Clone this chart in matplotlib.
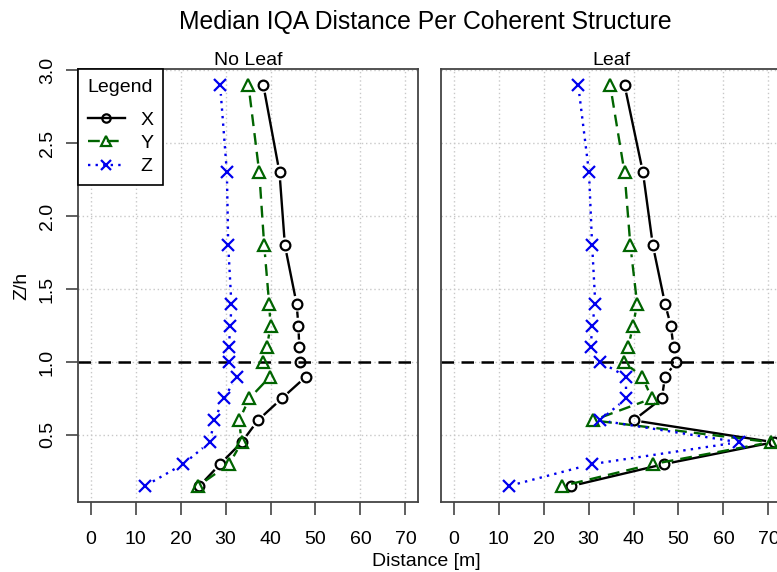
import numpy as np
import matplotlib
matplotlib.use('Agg')
import matplotlib.pyplot as plt
from matplotlib.lines import Line2D

plt.rcParams['font.family'] = ['Liberation Sans', 'DejaVu Sans']

# heights (Z/h)
zh = [0.15, 0.3, 0.45, 0.6, 0.75, 0.9, 1.0, 1.1, 1.25, 1.4, 1.8, 2.3, 2.9]

# median IQA distance [m], no leaf
noleaf_x = [24.2, 28.8, 33.6, 37.2, 42.5, 47.9, 46.6, 46.4, 46.2, 45.8, 43.2, 42.0, 38.4]
noleaf_y = [23.9, 30.8, 33.6, 33.0, 35.3, 39.9, 38.3, 39.2, 40.0, 39.7, 38.6, 37.5, 35.1]
noleaf_z = [12.1, 20.6, 26.5, 27.5, 29.6, 32.6, 30.7, 30.7, 31.1, 31.3, 30.6, 30.3, 28.8]

# leaf
leaf_x = [26.2, 46.8, 71.2, 40.0, 46.3, 47.0, 49.5, 48.9, 48.3, 47.0, 44.3, 42.1, 38.0]
leaf_y = [24.2, 44.3, 70.5, 31.0, 44.1, 41.9, 37.8, 38.8, 39.9, 40.8, 39.3, 38.0, 34.8]
leaf_z = [12.3, 30.8, 63.4, 32.5, 38.4, 38.4, 32.6, 30.5, 30.8, 31.5, 30.8, 30.1, 27.7]

xticks = [0, 10, 20, 30, 40, 50, 60, 70]
yticks = [0.5, 1.0, 1.5, 2.0, 2.5, 3.0]

styles = [
    dict(color='black', ls='-', marker='o', ms=7),
    dict(color='#006400', ls=(0, (5, 3)), marker='^', ms=8),
    dict(color='#0000EE', ls=(0, (1, 2.2)), marker='x', ms=8),
]


def gap_line(ax, xs, ys, color, ls, marker, ms, gap=9):
    # R type="b": segments stop short of each point
    pts = ax.transData.transform(np.column_stack([xs, ys]))
    inv = ax.transData.inverted()
    for p0, p1 in zip(pts[:-1], pts[1:]):
        d = p1 - p0
        n = np.hypot(*d)
        if n <= 2 * gap:
            continue
        u = d / n
        a = inv.transform(p0 + u * gap)
        b = inv.transform(p1 - u * gap)
        ax.plot([a[0], b[0]], [a[1], b[1]], color=color, ls=ls, lw=1.7)
    ax.plot(xs, ys, ls='none', marker=marker, ms=ms, mfc='none',
            mec=color, mew=1.6)


fig = plt.figure(figsize=(7.77, 5.72), dpi=100)
ax1 = fig.add_axes([0.1004, 0.1224, 0.4376, 0.757])
ax2 = fig.add_axes([0.5676, 0.1224, 0.4376, 0.757])

for ax, data, name in [(ax1, (noleaf_x, noleaf_y, noleaf_z), 'No Leaf'),
                       (ax2, (leaf_x, leaf_y, leaf_z), 'Leaf')]:
    ax.set_xlim(-2.8, 72.8)
    ax.set_ylim(0.04, 3.01)
    ax.set_xticks(xticks)
    ax.set_yticks(yticks)
    ax.grid(True, color='#c8c8c8', ls=(0, (1, 2)), lw=1)
    ax.set_axisbelow(True)
    for s in ax.spines.values():
        s.set_color('#444444')
        s.set_linewidth(1.3)
    ax.tick_params(axis='x', length=9, width=1.2, color='#444444',
                   labelsize=14, pad=12)
    ax.tick_params(axis='y', length=9, width=1.2, color='#444444',
                   labelsize=14, pad=7)
    ax.axhline(1.0, color='black', ls=(0, (5, 3)), lw=1.8)
    for vals, st in zip(data, styles):
        gap_line(ax, vals, zh, **st)
    ax.set_title(name, fontsize=14, pad=2)

ax1.set_yticklabels(['%.1f' % t for t in yticks], rotation=90, va='center')
ax2.tick_params(axis='y', left=False, labelleft=False)

ax1.set_ylabel('Z/h', fontsize=14, labelpad=6)
fig.text(0.549, 0.0175, 'Distance [m]', ha='center', va='center', fontsize=14)
fig.text(0.547, 0.962, 'Median IQA Distance Per Coherent Structure',
         ha='center', va='center', fontsize=17.8)

handles = [Line2D([], [], color=st['color'], ls=st['ls'], lw=1.7,
                  marker=st['marker'], ms=st['ms'] - 1, mfc='none',
                  mec=st['color'], mew=1.6) for st in styles]
leg = ax1.legend(handles, ['X', 'Y', 'Z'], title='Legend', loc='upper left',
                 fontsize=14, title_fontsize=14, fancybox=False,
                 edgecolor='black', framealpha=1, borderaxespad=0,
                 handlelength=1.9, handletextpad=0.8, labelspacing=0.3,
                 borderpad=0.5)
leg.get_frame().set_linewidth(1.2)
leg._legend_box.align = 'left'
leg._legend_box.sep = 11

fig.savefig('out.png', dpi=100)
